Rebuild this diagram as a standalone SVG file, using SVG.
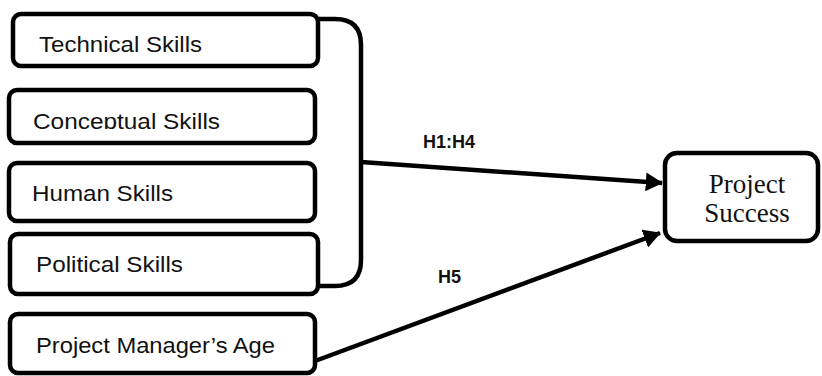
<svg xmlns="http://www.w3.org/2000/svg" width="822" height="376" viewBox="0 0 822 376">
<defs>
<style>
.box{fill:#fff;stroke:#000;stroke-width:4.5}
.lbl{font-family:"Liberation Sans",Arial,sans-serif;font-size:22px;fill:#111}
.hyp{font-family:"Liberation Sans",Arial,sans-serif;font-size:18px;font-weight:bold;fill:#111}
.out{font-family:"Liberation Serif","Times New Roman",serif;font-size:27px;fill:#111}
.conn{fill:none;stroke:#000;stroke-width:4.5}
</style>
<marker id="ah" markerWidth="4" markerHeight="4.2" refX="3.6" refY="2.1" orient="auto" markerUnits="strokeWidth">
<path d="M0,0 L3.8,2.1 L0,4.2 Z" fill="#000"/>
</marker>
<clipPath id="cc"><rect x="0" y="89" width="330" height="40"/></clipPath>
</defs>
<rect width="822" height="376" fill="#fff"/>
<g id="technical">
<rect class="box" x="13" y="14" width="305" height="52" rx="8"/>
<text class="lbl" x="39" y="52" textLength="163" lengthAdjust="spacingAndGlyphs">Technical Skills</text>
</g>
<g id="conceptual">
<rect class="box" x="9" y="90" width="306" height="53" rx="8"/>
<text class="lbl" x="33" y="129" textLength="187" lengthAdjust="spacingAndGlyphs" clip-path="url(#cc)">Conceptual Skills</text>
</g>
<g id="human">
<rect class="box" x="9" y="163" width="306" height="58" rx="8"/>
<text class="lbl" x="32" y="201" textLength="141" lengthAdjust="spacingAndGlyphs">Human Skills</text>
</g>
<g id="political">
<rect class="box" x="10" y="234" width="308" height="60" rx="8"/>
<text class="lbl" x="36" y="272" textLength="147" lengthAdjust="spacingAndGlyphs">Political Skills</text>
</g>
<g id="age">
<rect class="box" x="10" y="314" width="305" height="59" rx="8"/>
<text class="lbl" x="36" y="353" textLength="239" lengthAdjust="spacingAndGlyphs">Project Manager’s Age</text>
</g>
<g id="success">
<rect class="box" x="665" y="153" width="153" height="88" rx="12"/>
<text class="out" x="747" y="193" text-anchor="middle">Project</text>
<text class="out" x="747" y="222" text-anchor="middle">Success</text>
</g>
<g id="connectors">
<path class="conn" d="M318,19 L335,19 Q361,19 361,45 L361,260 Q361,286 335,286 L320,286"/>
<line class="conn" x1="361" y1="162" x2="662" y2="183" marker-end="url(#ah)"/>
<line class="conn" x1="315" y1="361" x2="660" y2="233" marker-end="url(#ah)"/>
<text class="hyp" x="423" y="148">H1:H4</text>
<text class="hyp" x="438" y="283">H5</text>
</g>
</svg>
